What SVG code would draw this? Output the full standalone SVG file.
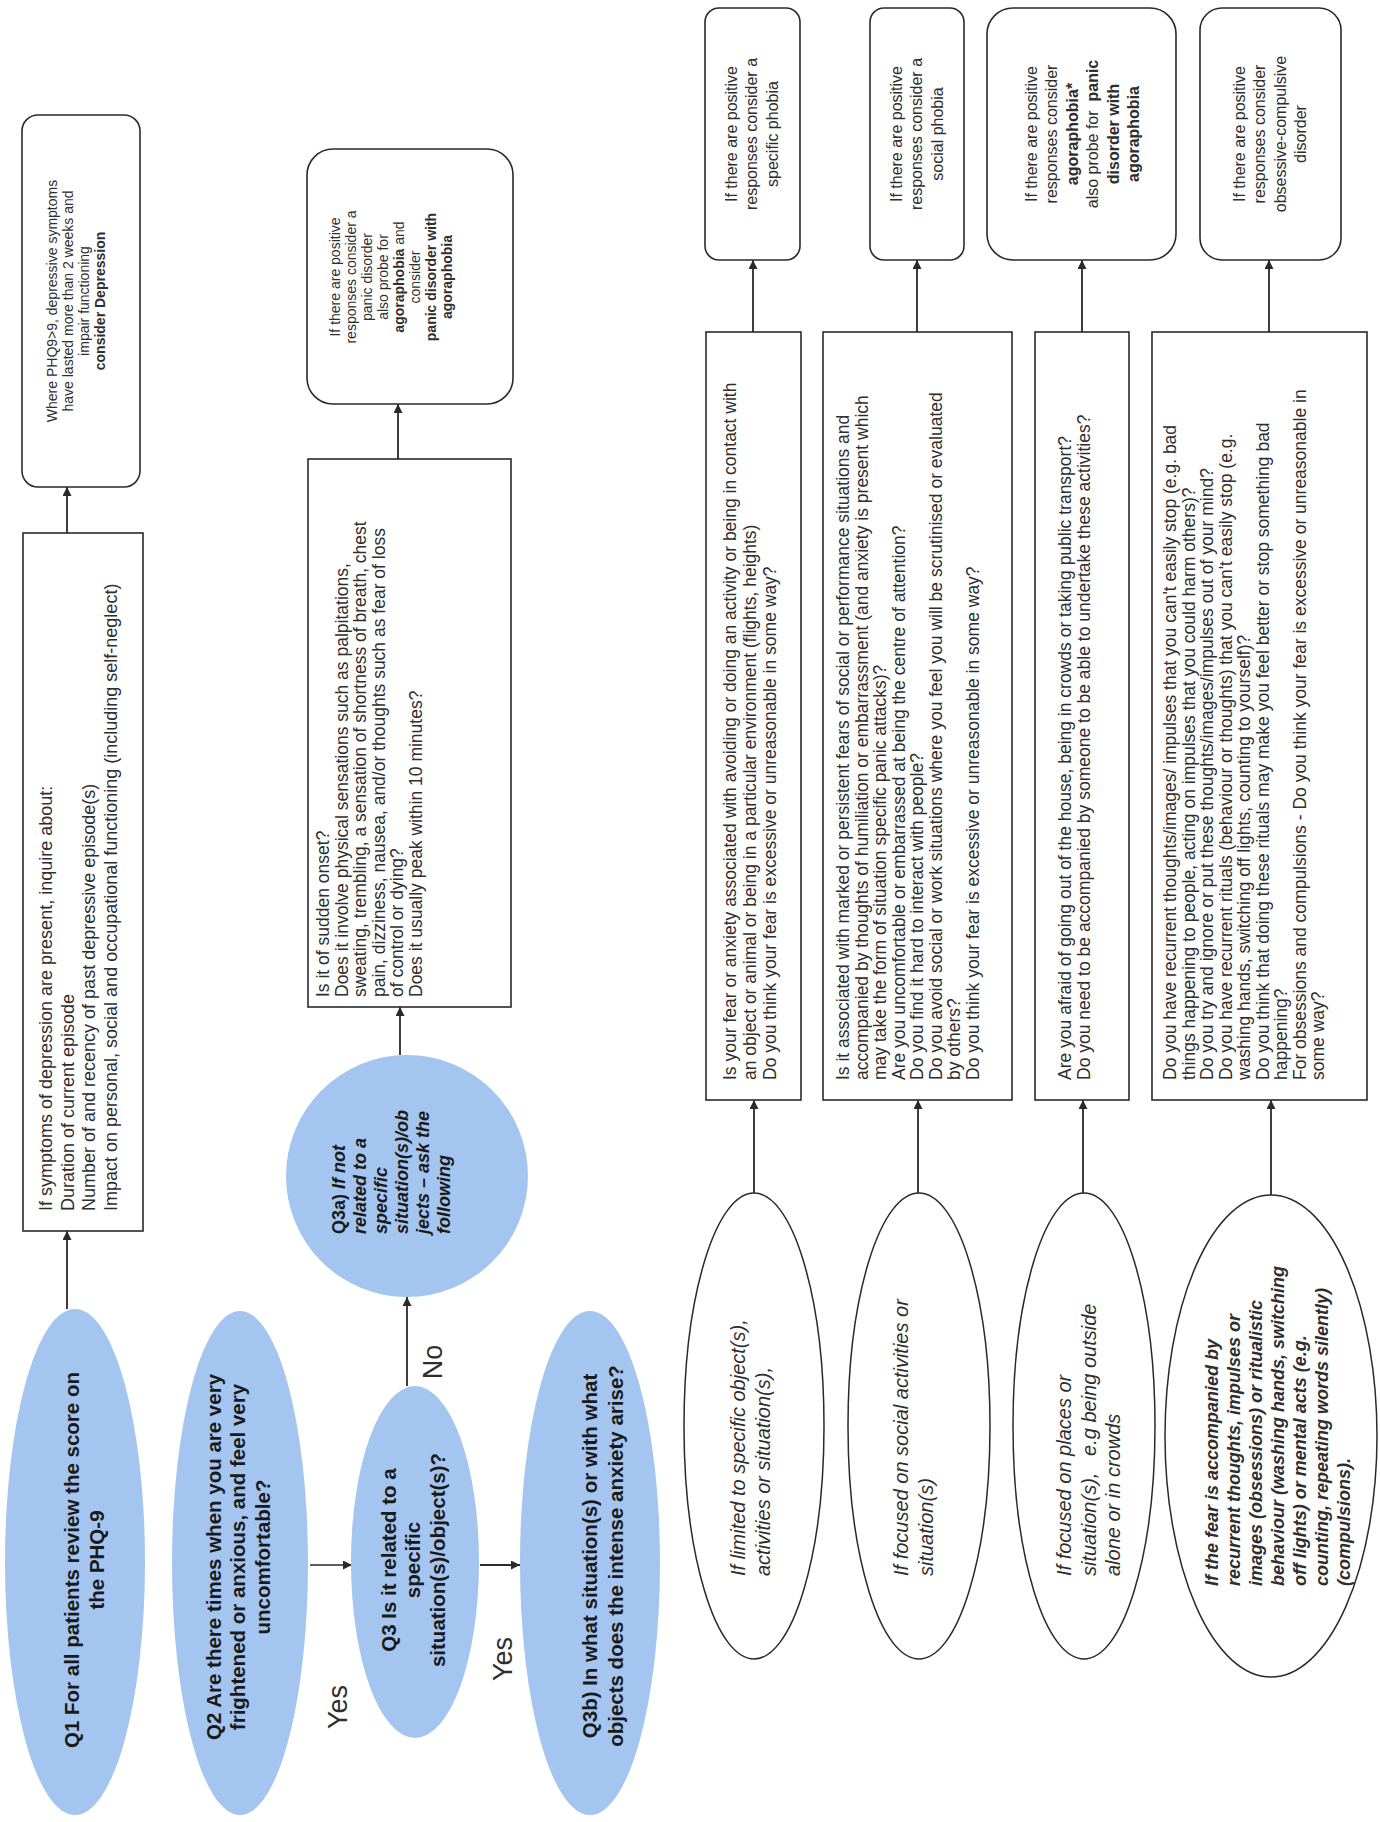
<svg xmlns="http://www.w3.org/2000/svg" width="1380" height="1822" viewBox="0 0 1380 1822">
<style>
text{font-family:"Liberation Sans",Arial,sans-serif;fill:#2e2e2e}
.box{fill:#fff;stroke:#2a2a2a;stroke-width:1.6}
.blue{fill:#a3c5ef;stroke:none}
.oval{fill:#fff;stroke:#2a2a2a;stroke-width:1.5}
.conn{stroke:#2a2a2a;stroke-width:1.8;fill:none;marker-end:url(#ah)}
.q{font-weight:bold;font-size:20.5px;text-anchor:middle;fill:#1a1a1a}
.qa{font-weight:bold;font-style:italic;font-size:18px;fill:#1a1a1a}
.t{font-size:17.5px}
.tb{font-size:18px}
.r{font-size:16px;text-anchor:middle}
.rs{font-size:14px;text-anchor:middle}
.e{font-size:20px;font-style:italic}
.e4{font-size:18px;font-style:italic;font-weight:bold}
.lbl{font-size:27px;text-anchor:middle}
.b{font-weight:bold}
</style>
<defs>
<marker id="ah" viewBox="0 0 10 10" refX="10" refY="5" markerUnits="userSpaceOnUse" markerWidth="11" markerHeight="9" orient="auto">
<path d="M0,0 L10,5 L0,10 z" fill="#2a2a2a"/>
</marker>
</defs>
<g transform="translate(0,1822) rotate(-90)">
<g id="connectors">
<path class="conn" d="M513,67 L591,67"/>
<path class="conn" d="M1289,67 L1335,67"/>
<path class="conn" d="M257,310 L257,352" style="stroke-width:1.3"/>
<path class="conn" d="M436,407 L525,407"/>
<path class="conn" d="M767,400 L815,400"/>
<path class="conn" d="M1363,398 L1418,398"/>
<path class="conn" d="M257,480 L257,520"/>
<path class="conn" d="M629,754 L722,754"/>
<path class="conn" d="M629,918 L722,918"/>
<path class="conn" d="M629,1083 L722,1083"/>
<path class="conn" d="M627,1271 L722,1271"/>
<path class="conn" d="M1490,753 L1562,753"/>
<path class="conn" d="M1490,917 L1562,917"/>
<path class="conn" d="M1490,1082 L1562,1082"/>
<path class="conn" d="M1490,1269 L1562,1269"/>
<text class="lbl" x="115" y="347">Yes</text>
<text class="lbl" x="460" y="442">No</text>
<text class="lbl" x="163" y="512">Yes</text>
</g>
<g id="q1">
<ellipse class="blue" cx="260" cy="75" rx="253" ry="70"/>
<text class="q"><tspan x="262" y="79">Q1 For all patients review the score on</tspan><tspan x="262" y="104">the PHQ-9</tspan></text>
</g>
<g id="q2">
<ellipse class="blue" cx="259" cy="240" rx="252" ry="68"/>
<text class="q"><tspan x="265" y="221">Q2 Are there times when you are very</tspan><tspan x="265" y="245">frightened or anxious, and feel very</tspan><tspan x="265" y="270">uncomfortable?</tspan></text>
</g>
<g id="q3">
<ellipse class="blue" cx="260" cy="415" rx="176" ry="64"/>
<text class="q"><tspan x="262" y="396">Q3 Is it related to a</tspan><tspan x="262" y="420">specific</tspan><tspan x="262" y="445">situation(s)/object(s)?</tspan></text>
</g>
<g id="q3b">
<ellipse class="blue" cx="259" cy="590" rx="252" ry="70"/>
<text class="q"><tspan x="266" y="597">Q3b) In what situation(s) or with what</tspan><tspan x="266" y="623">objects does the intense anxiety arise?</tspan></text>
</g>
<g id="q3a">
<circle class="blue" cx="646" cy="407" r="121"/>
<text class="qa"><tspan x="588" y="345"><tspan style="font-style:normal">Q3a)</tspan> If not</tspan><tspan x="588" y="366">related to a</tspan><tspan x="588" y="387">specific</tspan><tspan x="588" y="408">situation(s)/ob</tspan><tspan x="588" y="429">jects – ask the</tspan><tspan x="588" y="450">following</tspan></text>
</g>
<g id="depression-inquiry">
<rect class="box" x="591" y="23" width="698" height="120"/>
<text class="tb"><tspan x="611" y="52">If symptoms of depression are present, inquire about:</tspan><tspan x="611" y="74">Duration of current episode</tspan><tspan x="611" y="95">Number of and recency of past depressive episode(s)</tspan><tspan x="611" y="117">Impact on personal, social and occupational functioning (including self-neglect)</tspan></text>
</g>
<g id="depression-result">
<rect class="box" x="1335" y="22" width="372" height="118" rx="16"/>
<text class="rs"><tspan x="1521" y="57">Where PHQ9&gt;9, depressive symptoms</tspan><tspan x="1521" y="73">have lasted more than 2 weeks and</tspan><tspan x="1521" y="89">impair functioning</tspan><tspan x="1521" y="105" class="b">consider Depression</tspan></text>
</g>
<g id="panic-questions">
<rect class="box" x="815" y="308" width="548" height="203"/>
<text class="t"><tspan x="825" y="329">Is it of sudden onset?</tspan><tspan x="825" y="347.5">Does it involve physical sensations such as palpitations,</tspan><tspan x="825" y="366">sweating, trembling, a sensation of shortness of breath, chest</tspan><tspan x="825" y="384.5">pain, dizziness, nausea, and/or thoughts such as fear of loss</tspan><tspan x="825" y="403">of control or dying?</tspan><tspan x="825" y="421.5">Does it usually peak within 10 minutes?</tspan></text>
</g>
<g id="panic-result">
<rect class="box" x="1418" y="307" width="255" height="206" rx="26"/>
<text class="rs"><tspan x="1545" y="340">If there are positive</tspan><tspan x="1545" y="356">responses consider a</tspan><tspan x="1545" y="372">panic disorder</tspan><tspan x="1545" y="388">also probe for</tspan><tspan x="1545" y="404"><tspan class="b">agoraphobia</tspan> and</tspan><tspan x="1545" y="420">consider</tspan><tspan x="1545" y="436" class="b">panic disorder with</tspan><tspan x="1545" y="452" class="b">agoraphobia</tspan></text>
</g>
<g id="specific-ellipse">
<ellipse class="oval" cx="396" cy="754" rx="233" ry="70"/>
<text class="e"><tspan x="246" y="745">If limited to specific object(s),</tspan><tspan x="246" y="770">activities or situation(s),</tspan></text>
</g>
<g id="social-ellipse">
<ellipse class="oval" cx="396" cy="919" rx="233" ry="71"/>
<text class="e"><tspan x="246" y="908">If focused on social activities or</tspan><tspan x="246" y="933">situation(s)</tspan></text>
</g>
<g id="agora-ellipse">
<ellipse class="oval" cx="396" cy="1084" rx="233" ry="71"/>
<text class="e"><tspan x="246" y="1071">If focused on places or</tspan><tspan x="246" y="1095.5">situation(s),&#160;&#160; e.g being outside</tspan><tspan x="246" y="1120">alone or in crowds</tspan></text>
</g>
<g id="ocd-ellipse">
<ellipse class="oval" cx="386" cy="1271" rx="241" ry="106"/>
<text class="e4"><tspan x="236" y="1218">If the fear is accompanied by</tspan><tspan x="236" y="1240">recurrent thoughts, impulses or</tspan><tspan x="236" y="1262">images (obsessions) or ritualistic</tspan><tspan x="236" y="1284">behaviour (washing hands, switching</tspan><tspan x="236" y="1306">off lights) or mental acts (e.g.</tspan><tspan x="236" y="1328">counting, repeating words silently)</tspan><tspan x="236" y="1350">(compulsions).</tspan></text>
</g>
<g id="specific-questions">
<rect class="box" x="722" y="706" width="768" height="95"/>
<text class="t"><tspan x="742" y="736">Is your fear or anxiety associated with avoiding or doing an activity or being in contact with</tspan><tspan x="742" y="756">an object or animal or being in a particular environment (flights, heights)</tspan><tspan x="742" y="776">Do you think your fear is excessive or unreasonable in some way?</tspan></text>
</g>
<g id="social-questions">
<rect class="box" x="722" y="823" width="768" height="189"/>
<text class="t"><tspan x="742" y="849">Is it associated with marked or persistent fears of social or performance situations and</tspan><tspan x="742" y="867.5">accompanied by thoughts of humiliation or embarrassment (and anxiety is present which</tspan><tspan x="742" y="886">may take the form of situation specific panic attacks)?</tspan><tspan x="742" y="904.5">Are you uncomfortable or embarrassed at being the centre of attention?</tspan><tspan x="742" y="923">Do you find it hard to interact with people?</tspan><tspan x="742" y="941.5">Do you avoid social or work situations where you feel you will be scrutinised or evaluated</tspan><tspan x="742" y="960">by others?</tspan><tspan x="742" y="978.5">Do you think your fear is excessive or unreasonable in some way?</tspan></text>
</g>
<g id="agora-questions">
<rect class="box" x="722" y="1035" width="768" height="94"/>
<text class="t"><tspan x="742" y="1071">Are you afraid of going out of the house, being in crowds or taking public transport?</tspan><tspan x="742" y="1089.5">Do you need to be accompanied by someone to be able to undertake these activities?</tspan></text>
</g>
<g id="ocd-questions">
<rect class="box" x="722" y="1152" width="768" height="215"/>
<text class="t"><tspan x="742" y="1176">Do you have recurrent thoughts/images/ impulses that you can't easily stop (e.g. bad</tspan><tspan x="742" y="1194.5">things happening to people, acting on impulses that you could harm others)?</tspan><tspan x="742" y="1213">Do you try and ignore or put these thoughts/images/impulses out of your mind?</tspan><tspan x="742" y="1231.5">Do you have recurrent rituals (behaviour or thoughts) that you can't easily stop (e.g.</tspan><tspan x="742" y="1250">washing hands, switching off lights, counting to yourself)?</tspan><tspan x="742" y="1268.5">Do you think that doing these rituals may make you feel better or stop something bad</tspan><tspan x="742" y="1287">happening?</tspan><tspan x="742" y="1305.5">For obsessions and compulsions - Do you think your fear is excessive or unreasonable in</tspan><tspan x="742" y="1324">some way?</tspan></text>
</g>
<g id="specific-result">
<rect class="box" x="1562" y="705" width="252" height="95" rx="14"/>
<text class="r"><tspan x="1688" y="736.5">If there are positive</tspan><tspan x="1688" y="757">responses consider a</tspan><tspan x="1688" y="777.5">specific phobia</tspan></text>
</g>
<g id="social-result">
<rect class="box" x="1562" y="870" width="252" height="94" rx="14"/>
<text class="r"><tspan x="1688" y="901.5">If there are positive</tspan><tspan x="1688" y="922">responses consider a</tspan><tspan x="1688" y="942.5">social phobia</tspan></text>
</g>
<g id="agora-result">
<rect class="box" x="1562" y="987" width="252" height="189" rx="26"/>
<text class="r"><tspan x="1688" y="1036.5">If there are positive</tspan><tspan x="1688" y="1057">responses consider</tspan><tspan x="1688" y="1077.5" class="b">agoraphobia*</tspan><tspan x="1688" y="1098">also probe for&#160; <tspan class="b">panic</tspan></tspan><tspan x="1688" y="1118.5" class="b">disorder with</tspan><tspan x="1688" y="1139" class="b">agoraphobia</tspan></text>
</g>
<g id="ocd-result">
<rect class="box" x="1562" y="1200" width="252" height="141" rx="22"/>
<text class="r"><tspan x="1688" y="1244.5">If there are positive</tspan><tspan x="1688" y="1265">responses consider</tspan><tspan x="1688" y="1285.5">obsessive-compulsive</tspan><tspan x="1688" y="1306">disorder</tspan></text>
</g>
</g>
</svg>
